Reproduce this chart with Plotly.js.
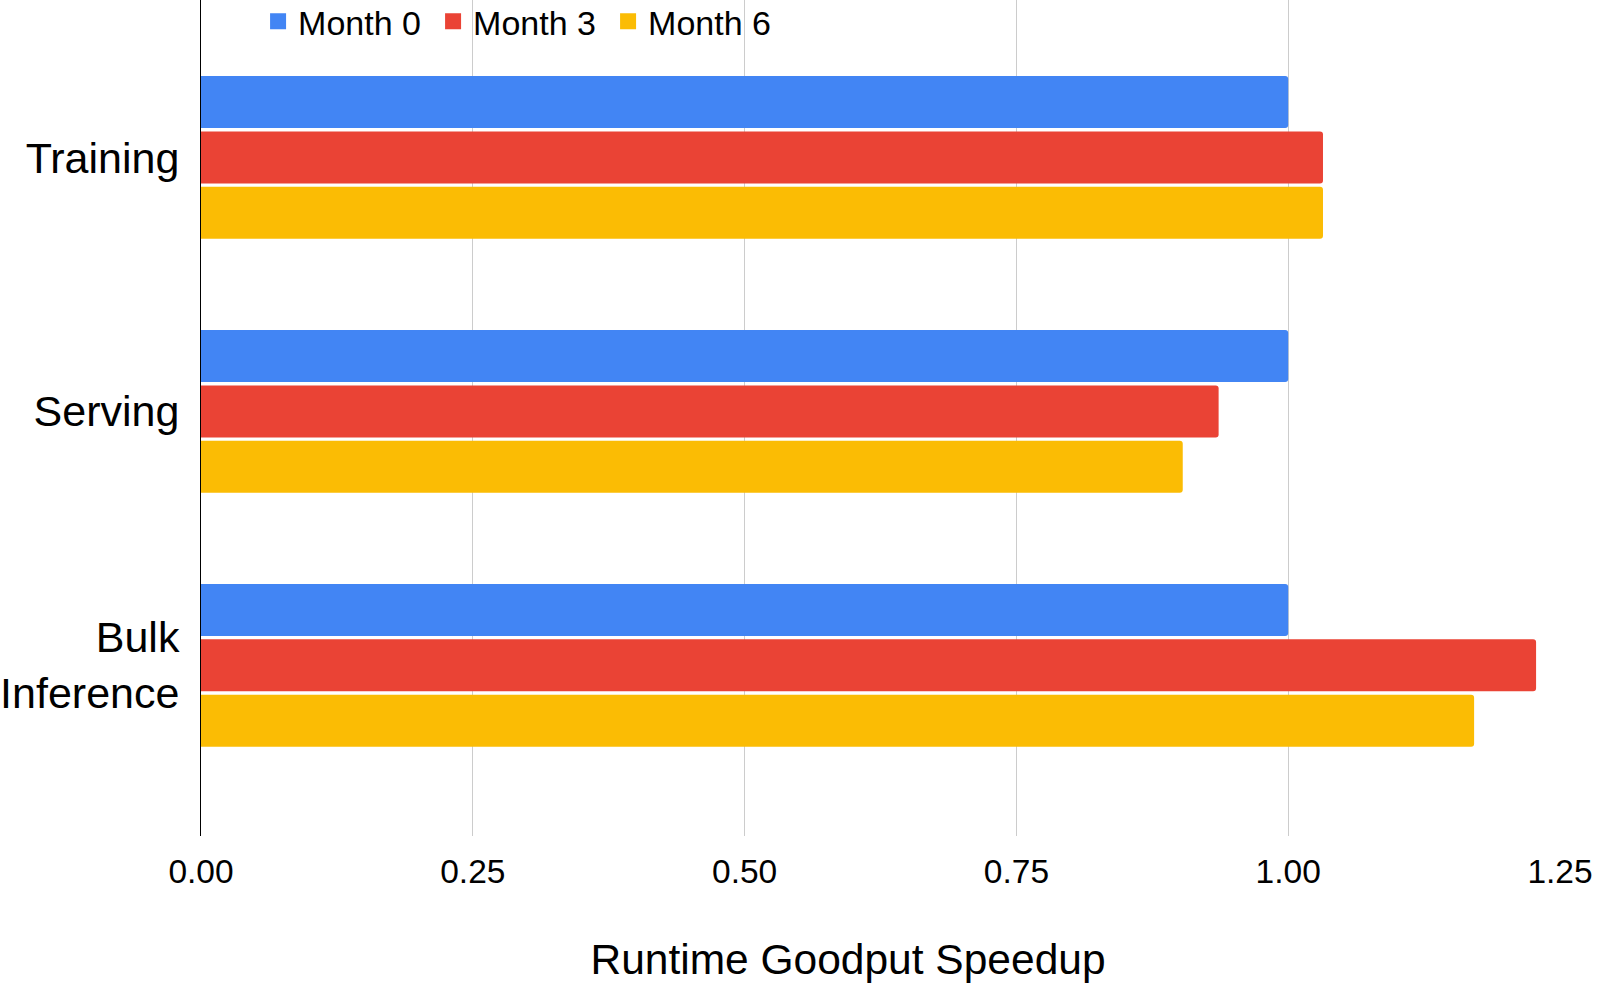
<!DOCTYPE html>
<html>
<head>
<meta charset="utf-8">
<script src="https://cdn.plot.ly/plotly-3.0.1.min.js"></script>
<style>html,body{margin:0;padding:0;background:#fff;}#chart{width:1600px;height:987px;}</style>
</head>
<body>
<div id="chart"></div>
<script>
const categories = ["Training", "Serving", "Bulk<br>Inference"];
const seriesNames = ["Month 0", "Month 3", "Month 6"];
const month0 = [1.00, 1.00, 1.00];
const month3 = [1.032, 0.936, 1.228];
const month6 = [1.032, 0.903, 1.171];
const xTicks = [0, 0.25, 0.5, 0.75, 1.0, 1.25];
const xTickLabels = ["0.00", "0.25", "0.50", "0.75", "1.00", "1.25"];
const colors = ["#4285F4", "#EA4335", "#FBBC04"];

const values = [month0, month3, month6];
const barTraces = values.map((v, i) => ({
  type: "bar",
  orientation: "h",
  name: seriesNames[i],
  legendgroup: seriesNames[i],
  showlegend: false,
  x: v,
  y: categories,
  marker: {color: colors[i], cornerradius: 3, line: {width: 0}},
  hoverinfo: "x+name"
}));
// legend-only entries with larger square swatches
const legendTraces = seriesNames.map((n, i) => ({
  type: "scatter",
  mode: "markers",
  name: n,
  legendgroup: n,
  x: [null],
  y: [null],
  marker: {symbol: "square", size: 16, color: colors[i]},
  hoverinfo: "skip"
}));

const layout = {
  width: 1600,
  height: 987,
  margin: {l: 201, r: 40, t: 0, b: 151, autoexpand: false},
  paper_bgcolor: "#ffffff",
  plot_bgcolor: "#ffffff",
  font: {family: "Liberation Sans, Arial, sans-serif", color: "#000000"},
  barmode: "group",
  bargap: 0.346,
  bargroupgap: 0.06,
  showlegend: true,
  legend: {
    orientation: "h",
    x: 0.042,
    xanchor: "left",
    y: 0.974,
    yanchor: "middle",
    bgcolor: "rgba(0,0,0,0)",
    traceorder: "normal",
    entrywidth: 130,
    font: {size: 34, color: "#000000"}
  },
  title: {
    text: "Runtime Goodput Speedup",
    font: {size: 42.5, color: "#000000"},
    xref: "container",
    yref: "container",
    x: 0.53,
    xanchor: "center",
    y: 1 - 959 / 987,
    yanchor: "middle"
  },
  xaxis: {
    range: [0, 1.25],
    tickvals: xTicks,
    ticktext: xTickLabels,
    showgrid: true,
    gridcolor: "#cccccc",
    gridwidth: 1,
    zeroline: false,
    showline: false,
    ticks: "",
    ticklabelstandoff: 12,
    tickfont: {size: 33.5, color: "#000000"}
  },
  yaxis: {
    type: "category",
    range: [2.672, -0.62],
    showgrid: false,
    zeroline: false,
    showline: true,
    linecolor: "#000000",
    linewidth: 1,
    ticks: "",
    ticklabelstandoff: 12,
    tickfont: {size: 43, color: "#000000"}
  }
};

Plotly.newPlot("chart", barTraces.concat(legendTraces), layout, {displayModeBar: false, staticPlot: true});
</script>
</body>
</html>
